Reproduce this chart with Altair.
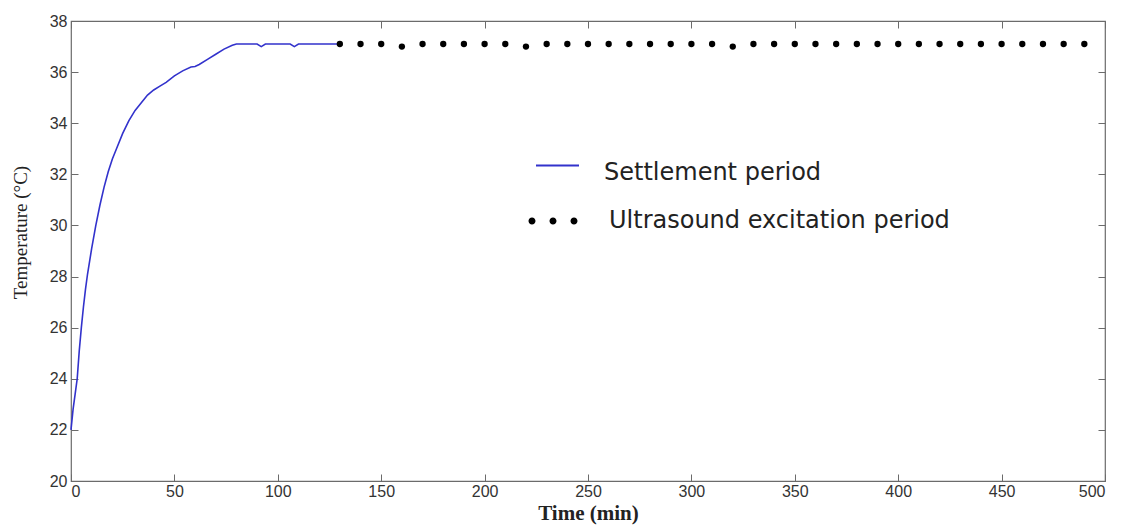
import altair as alt
import pandas as pd

# ---- data ----
settle_t = [0, 1, 2, 3, 4, 5, 6, 7, 8, 10, 12, 14, 16, 18, 20, 22, 25, 28, 31, 34,
            37, 40, 43, 46, 50, 54, 58, 60, 62, 66, 70, 74, 78, 80, 90, 92, 94,
            106, 108, 110, 130]
settle_T = [22.0, 22.8, 23.4, 24.0, 25.1, 26.0, 26.8, 27.5, 28.1, 29.1, 30.0, 30.8,
            31.5, 32.1, 32.6, 33.0, 33.6, 34.1, 34.5, 34.8, 35.1, 35.3, 35.45, 35.6,
            35.85, 36.05, 36.2, 36.22, 36.3, 36.5, 36.7, 36.9, 37.05, 37.1, 37.1,
            37.0, 37.1, 37.1, 37.0, 37.1, 37.1]

ultra_t = [130, 140, 150, 160, 170, 180, 190, 200, 210, 220, 230, 240, 250, 260,
           270, 280, 290, 300, 310, 320, 330, 340, 350, 360, 370, 380, 390, 400,
           410, 420, 430, 440, 450, 460, 470, 480, 490]
ultra_T = [37.1, 37.1, 37.1, 37.0, 37.1, 37.1, 37.1, 37.1, 37.1, 37.0, 37.1, 37.1,
           37.1, 37.1, 37.1, 37.1, 37.1, 37.1, 37.1, 37.0, 37.1, 37.1, 37.1, 37.1,
           37.1, 37.1, 37.1, 37.1, 37.1, 37.1, 37.1, 37.1, 37.1, 37.1, 37.1, 37.1,
           37.1]

x_ticks = [0, 50, 100, 150, 200, 250, 300, 350, 400, 450, 500]
y_ticks = [20, 22, 24, 26, 28, 30, 32, 34, 36, 38]

series_names = ["Settlement period", "Ultrasound excitation period"]

settle_df = pd.DataFrame({"t": settle_t, "T": settle_T, "series": series_names[0]})
ultra_df = pd.DataFrame({"t": ultra_t, "T": ultra_T, "series": series_names[1]})

W, H = 1034, 460
AX = "#6b6b6b"
LBL = "#333333"
TICK_LEN = 7

xs = alt.Scale(domain=[0, 500], nice=False, zero=False)
ys = alt.Scale(domain=[20, 38], nice=False, zero=False)

# dots symbol for legend (three dots in [-1,1] space)
def circ(cx, r=0.146):
    return (f"M{cx - r:.3f},0a{r},{r} 0 1,0 {2*r:.3f},0"
            f"a{r},{r} 0 1,0 {-2*r:.3f},0Z")
dots_path = " ".join(circ(c) for c in (-0.875, 0.0, 0.875))
line_path = "M-1,-0.33L1,-0.33"

LEG_FONT = "DejaVu Sans"
LEG_SIZE = 24

# layer 1: blue line, with labelled bottom / left axes
line = alt.Chart(settle_df).mark_line(strokeWidth=1.6).encode(
    x=alt.X("t:Q", scale=xs, axis=alt.Axis(
        orient="bottom", values=x_ticks, ticks=False, tickSize=0, domain=False,
        labelFont="Liberation Sans", labelFontSize=16, labelColor=LBL,
        labelPadding=2, title="Time (min)", titleFont="Liberation Serif",
        titleFontSize=21, titleFontWeight="bold", titleColor="#222",
        titleBaseline="alphabetic", titleY=38)),
    y=alt.Y("T:Q", scale=ys, axis=alt.Axis(
        orient="left", values=y_ticks, ticks=False, tickSize=0, domain=False,
        labelFont="Liberation Sans", labelFontSize=16, labelColor=LBL,
        labelPadding=4, title="Temperature (\u00b0C)", titleFont="Liberation Serif",
        titleFontSize=19, titleFontWeight="normal", titleColor="#222",
        titleAngle=270, titleBaseline="alphabetic", titleAlign="center",
        titleX=-45, titleY=211)),
    color=alt.Color("series:N", scale=alt.Scale(domain=[series_names[0]], range=["#3232cc"]),
                    legend=alt.Legend(orient="none", legendX=464, legendY=129, title=None,
                                      padding=0, symbolType=line_path, symbolSize=1849,
                                      symbolStrokeWidth=2, labelFont=LEG_FONT,
                                      labelFontSize=LEG_SIZE, labelColor="#222",
                                      labelOffset=24, labelLimit=0)),
)

# layer 2: black dots, with inward ticks at bottom and left
dots = alt.Chart(ultra_df).mark_point(filled=True, size=40, opacity=1).encode(
    x=alt.X("t:Q", scale=xs, axis=alt.Axis(
        orient="top", offset=-H, values=x_ticks, labels=False, domain=False,
        ticks=True, tickSize=TICK_LEN, tickColor=AX, title=None)),
    y=alt.Y("T:Q", scale=ys, axis=alt.Axis(
        orient="right", offset=-W, values=y_ticks, labels=False, domain=False,
        ticks=True, tickSize=TICK_LEN, tickColor=AX, title=None)),
    color=alt.Color("series:N", scale=alt.Scale(domain=[series_names[1]], range=["#000000"]),
                    legend=alt.Legend(orient="none", legendX=458, legendY=176, title=None,
                                      padding=0, symbolType=dots_path, symbolSize=2304,
                                      symbolStrokeWidth=0, labelFont=LEG_FONT,
                                      labelFontSize=LEG_SIZE, labelColor="#222",
                                      labelOffset=32, labelLimit=0)),
)

# layer 3: invisible carrier for inward ticks at top and right
ghost = alt.Chart(ultra_df).mark_point(opacity=0).encode(
    x=alt.X("t:Q", scale=xs, axis=alt.Axis(
        orient="bottom", offset=-H, values=x_ticks, labels=False, domain=False,
        ticks=True, tickSize=TICK_LEN, tickColor=AX, title=None)),
    y=alt.Y("T:Q", scale=ys, axis=alt.Axis(
        orient="left", offset=-W, values=y_ticks, labels=False, domain=False,
        ticks=True, tickSize=TICK_LEN, tickColor=AX, title=None)),
)

chart = alt.layer(line, dots, ghost).resolve_axis(
    x="independent", y="independent"
).resolve_scale(color="independent").properties(
    width=W, height=H,
    autosize=alt.AutoSizeParams(type="none"),
    padding={"left": 71, "top": 21, "right": 27, "bottom": 44},
    background="white",
).configure_axis(grid=False).configure_view(stroke=AX, strokeWidth=1.2)

chart.save("out.html", embed_options={"renderer": "svg", "actions": False})
